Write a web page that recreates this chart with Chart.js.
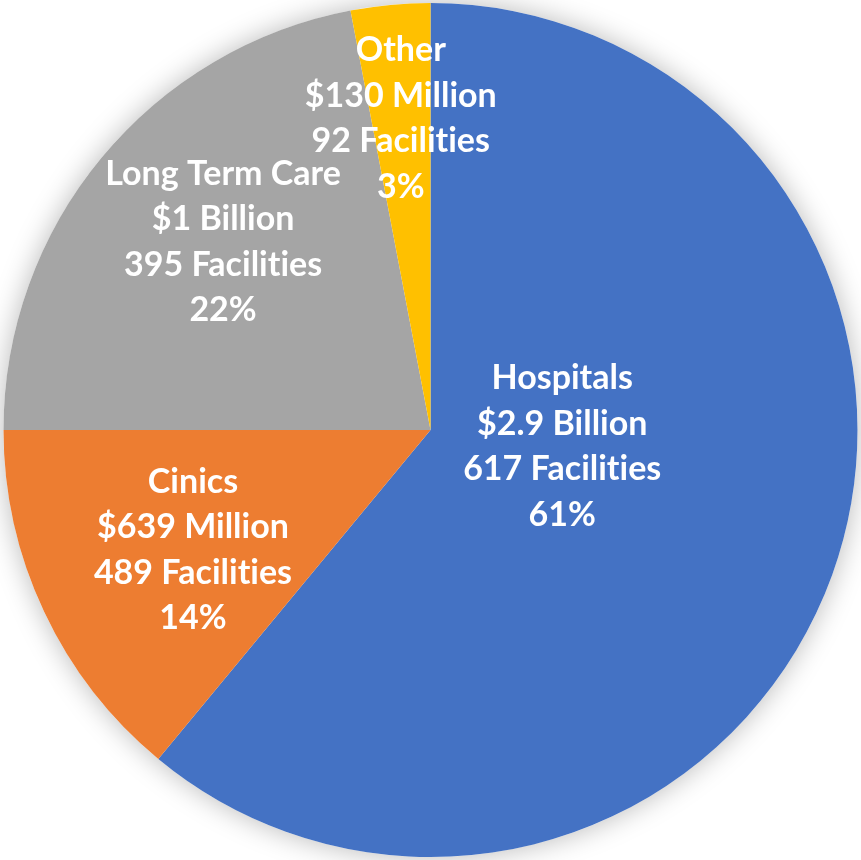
<!DOCTYPE html>
<html lang="en">
<head>
    <meta charset="UTF-8">
    <title>Facilities</title>
    <style>
        html, body {
            margin: 0;
            padding: 0;
            background: #ffffff;
        }
        #wrap {
            width: 861px;
            height: 860px;
        }
    </style>
    <script src="https://cdn.jsdelivr.net/npm/chart.js"></script>
</head>
<body>
    <div id="wrap"><canvas id="pieChart"></canvas></div>
    <script>
        // chart data
        const categories = ['Hospitals', 'Cinics', 'Long Term Care', 'Other'];
        const amounts = ['$2.9 Billion', '$639 Million', '$1 Billion', '$130 Million'];
        const facilities = [617, 489, 395, 92];
        const shares = [61, 14, 22, 3];
        const colors = ['#4472C4', '#ED7D31', '#A5A5A5', '#FFC000'];

        // where each label sits inside its slice (fraction of radius, turn in degrees)
        const labelRadius = [0.31, 0.62, 0.66, 0.74];
        const labelTurn = [-14, -1, 3, 0];

        // soft shadow under the whole pie
        const pieShadow = {
            id: 'pieShadow',
            beforeDatasetsDraw(chart) {
                const arc = chart.getDatasetMeta(0).data[0];
                if (!arc) return;
                const ctx = chart.ctx;
                ctx.save();
                ctx.shadowColor = 'rgba(0, 0, 0, 0.28)';
                ctx.shadowBlur = 28;
                ctx.fillStyle = '#ffffff';
                ctx.beginPath();
                ctx.arc(arc.x, arc.y, arc.outerRadius, 0, Math.PI * 2);
                ctx.fill();
                ctx.restore();
            }
        };

        // multi-line white labels inside slices
        const sliceLabels = {
            id: 'sliceLabels',
            afterDatasetsDraw(chart) {
                const ctx = chart.ctx;
                const lh = 45.5;
                chart.getDatasetMeta(0).data.forEach((arc, i) => {
                    const a = (arc.startAngle + arc.endAngle) / 2 + labelTurn[i] * Math.PI / 180;
                    const r = arc.outerRadius * labelRadius[i];
                    const cx = arc.x + Math.cos(a) * r;
                    const cy = arc.y + Math.sin(a) * r + 3;
                    // zero-width non-joiner keeps Lato from using the "ti" ligature
                    const lines = [categories[i], amounts[i], facilities[i] + ' Facilit\u200Cies', shares[i] + '%'];
                    ctx.save();
                    ctx.fillStyle = '#ffffff';
                    ctx.font = 'bold 34px Lato, "Open Sans", sans-serif';
                    ctx.textAlign = 'center';
                    ctx.textBaseline = 'middle';
                    lines.forEach((t, k) => {
                        ctx.fillText(t, cx, cy + (k - 1.5) * lh);
                    });
                    ctx.restore();
                });
            }
        };

        new Chart(document.getElementById('pieChart'), {
            type: 'pie',
            data: {
                labels: categories,
                datasets: [{
                    data: shares,
                    backgroundColor: colors,
                    borderWidth: 0
                }]
            },
            options: {
                responsive: true,
                maintainAspectRatio: false,
                animation: false,
                layout: { padding: 3 },
                plugins: {
                    legend: { display: false },
                    tooltip: { enabled: false }
                }
            },
            plugins: [pieShadow, sliceLabels]
        });
    </script>
</body>
</html>
